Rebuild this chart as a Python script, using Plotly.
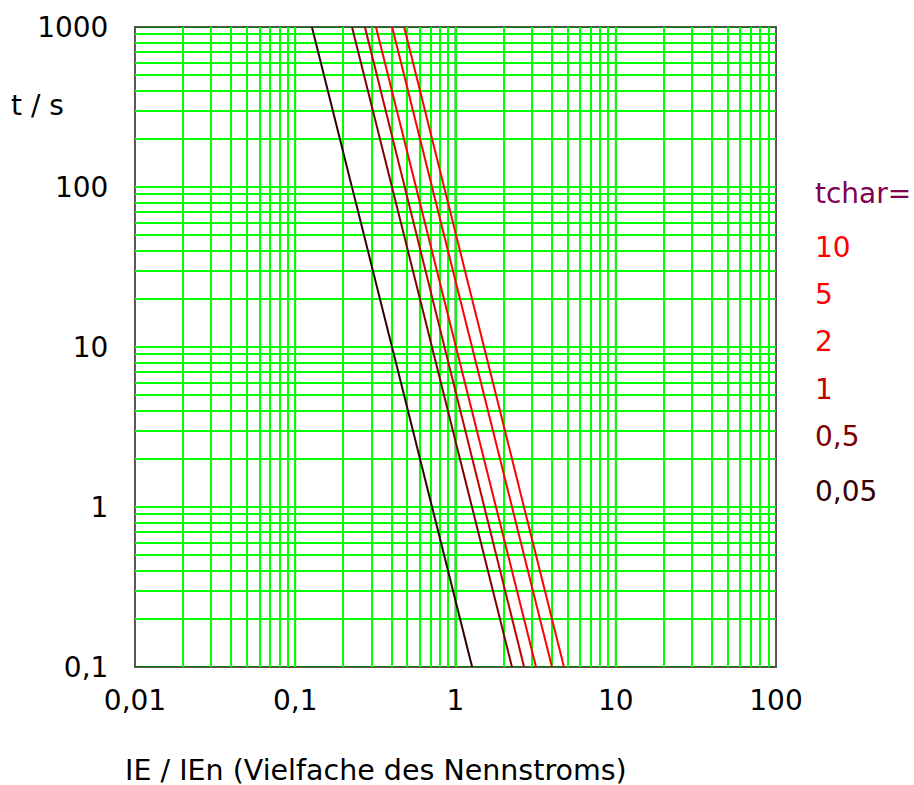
"""Auslösekennlinien (t / s über IE / IEn), log-log."""

import plotly.graph_objects as go

# Kennlinien: Strom bei t = 1000 s und bei t = 0,1 s
TCHAR = ["0,05", "0,5", "1", "2", "5", "10"]
I_AT_TMAX = [0.127, 0.226, 0.272, 0.319, 0.402, 0.478]
I_AT_TMIN = [1.27, 2.25, 2.68, 3.18, 4.00, 4.75]
T_ENDS = [1000, 0.1]
LINE_COLORS = ["#330000", "#800000", "#c00000", "#ff0000", "#ff0000", "#ff0000"]

X_DECADES = [0.01, 0.1, 1, 10, 100]
X_DECADE_TEXT = ["0,01", "0,1", "1", "10", "100"]
Y_DECADES = [0.1, 1, 10, 100, 1000]
Y_DECADE_TEXT = ["0,1", "1", "10", "100", "1000"]

FONT = "DejaVu Sans, sans-serif"
MAJOR = "#007a00"
MINOR = "#00ff00"
FS = 28


def _grid_ticks(decades, labels):
    """All 1..9 multiples as ticks (lime grid); only decades get a label."""
    vals, text = [], []
    for i, d in enumerate(decades):
        vals.append(d)
        text.append(labels[i])
        if i < len(decades) - 1:
            for k in range(2, 10):
                vals.append(d * k)
                text.append("")
    return vals, text


fig = go.Figure()
for name, i0, i1, color in zip(TCHAR, I_AT_TMAX, I_AT_TMIN, LINE_COLORS):
    fig.add_trace(
        go.Scatter(
            x=[i0, i1],
            y=T_ENDS,
            mode="lines",
            name=name,
            line=dict(color=color, width=2),
            showlegend=False,
        )
    )

axis_common = dict(
    type="log",
    showgrid=True,
    gridcolor=MINOR,
    gridwidth=1.8,
    showline=True,
    linecolor="#555555",
    linewidth=1,
    mirror=True,
    ticks="",
    zeroline=False,
    tickfont=dict(size=FS, color="black", family=FONT),
)

xv, xt = _grid_ticks(X_DECADES, X_DECADE_TEXT)
yv, yt = _grid_ticks(Y_DECADES, Y_DECADE_TEXT)
fig.update_xaxes(**axis_common, range=[-2, 2], tickmode="array",
                 tickvals=xv, ticktext=xt, ticklabelstandoff=8)
fig.update_yaxes(**axis_common, range=[-1, 3], tickmode="array",
                 tickvals=yv, ticktext=yt, ticklabelstandoff=20)

# Dekaden-Gitterlinien dunkelgrün
for d in X_DECADES:
    fig.add_shape(type="line", xref="x", yref="paper", x0=d, x1=d, y0=0, y1=1,
                  line=dict(color=MAJOR, width=1.8), layer="below")
for d in Y_DECADES:
    fig.add_shape(type="line", xref="paper", yref="y", x0=0, x1=1, y0=d, y1=d,
                  line=dict(color=MAJOR, width=1.8), layer="below")

# Achsenbeschriftungen
fig.add_annotation(
    text="t / s", xref="paper", yref="paper", x=-0.197, y=0.878,
    xanchor="left", yanchor="middle", showarrow=False,
    font=dict(size=FS, color="black", family=FONT),
)
fig.add_annotation(
    text="IE / IEn (Vielfache des Nennstroms)", xref="paper", yref="paper",
    x=-0.019, y=-0.162, xanchor="left", yanchor="middle", showarrow=False,
    font=dict(size=28.5, color="black", family=FONT),
)

# Legende rechts
legend_items = [("tchar=", "#800050")] + list(zip(TCHAR[::-1], LINE_COLORS[::-1]))
legend_y = [193, 247, 294, 341, 389, 436, 491]
for (text, color), py in zip(legend_items, legend_y):
    fig.add_annotation(
        text=text, xref="paper", yref="paper",
        x=(813 - 135) / 641, y=(667 - py) / 640,
        xanchor="left", yanchor="middle", showarrow=False,
        font=dict(size=FS, color=color, family=FONT),
    )

fig.update_layout(
    width=914,
    height=785,
    margin=dict(l=135, r=138, t=27, b=118),
    paper_bgcolor="white",
    plot_bgcolor="white",
    font=dict(family=FONT, color="black"),
)

fig.write_html(
    "out.html",
    config={"displayModeBar": False},
    post_script="document.body.style.margin='0';",
)
